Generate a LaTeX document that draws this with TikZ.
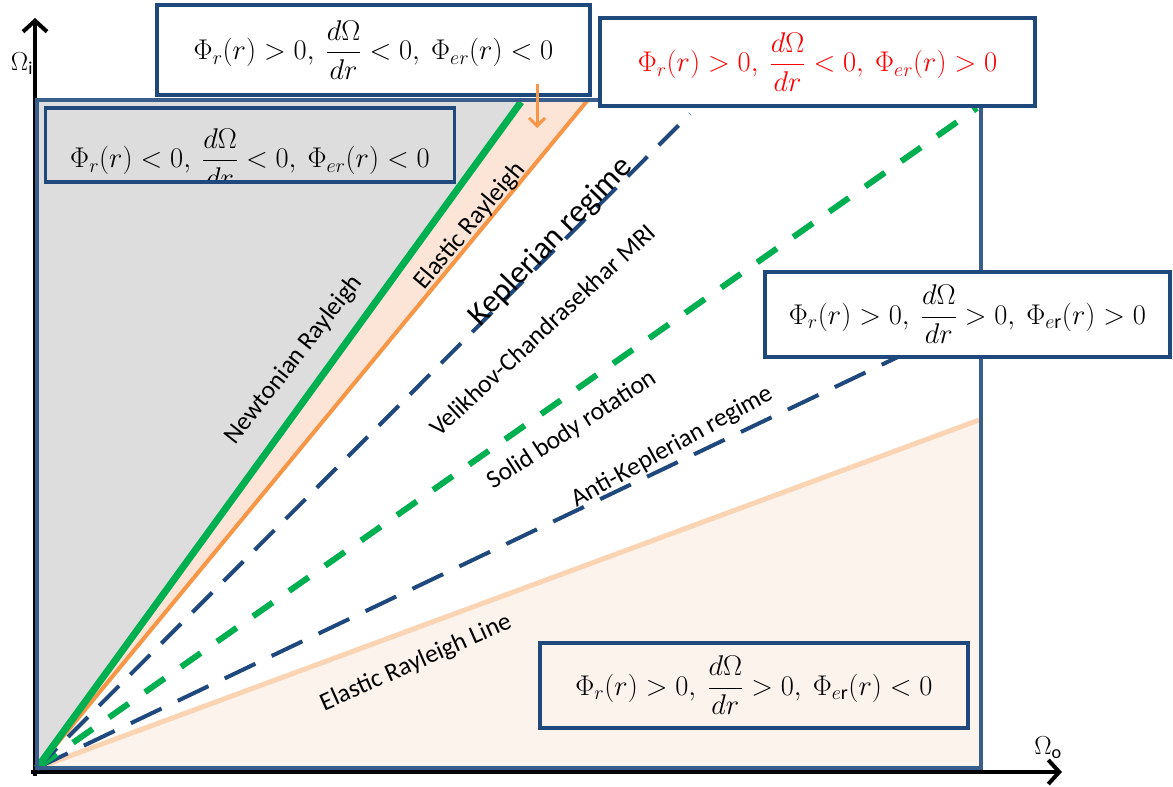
\documentclass[tikz,border=0pt]{standalone}
\usepackage{fix-cm}
\usepackage{amsmath}
\usepackage{fontspec}
\setmainfont{Carlito}
\usetikzlibrary{arrows.meta}
\definecolor{boxblue}{RGB}{31,73,125}
\definecolor{frameblue}{RGB}{58,94,140}
\definecolor{greyfill}{RGB}{221,221,221}
\definecolor{peach}{RGB}{252,228,214}
\definecolor{lightpeach}{RGB}{253,243,237}
\definecolor{lgreen}{RGB}{0,176,80}
\definecolor{lorange}{RGB}{247,150,70}
\definecolor{paleorange}{RGB}{251,212,180}
\definecolor{dblue}{RGB}{31,73,125}
\tikzset{
  eqbox/.style={draw=boxblue, line width=3.5pt, fill=white, outer sep=0pt, inner sep=0pt, font=\fontsize{28.5}{33}\selectfont},
  eqfont/.style={font=\fontsize{28.5}{33}\selectfont},
  lbl/.style={font=\fontsize{25.5}{30}\selectfont, inner sep=0pt},
  axis/.style={line width=4pt, black, -{Straight Barb[length=11pt,width=24pt]}},
  bluedash/.style={dblue, line width=4pt, dash pattern=on 28pt off 16pt},
  greendash/.style={lgreen, line width=6pt, dash pattern=on 24pt off 20pt}
}
\begin{document}
\begin{tikzpicture}[x=1pt,y=-1pt]
\useasboundingbox (0,0) rectangle (1173,787);
% key coordinates
\coordinate (O) at (37,768);
\coordinate (TL) at (37,100);
\coordinate (BR) at (981,768);
\coordinate (gEnd) at (521,102);
\coordinate (oEnd) at (587,101);
\coordinate (kEnd) at (690,114);
\coordinate (sEnd) at (977,108);
\coordinate (aEnd) at (900,356);
\coordinate (eEnd) at (979,420);
\coordinate (gTop) at (524,100);
\coordinate (oTop) at (590,100);
\coordinate (eRight) at (981,420);
% regions
\fill[greyfill] (O) -- (TL) -- (gTop) -- cycle;
\fill[peach] (O) -- (gTop) -- (oTop) -- cycle;
\fill[lightpeach] (O) -- (eRight) -- (BR) -- cycle;
% axes
\coordinate (yb) at (35,776);
\coordinate (yt) at (35,18);
\coordinate (xl) at (31,772);
\coordinate (xr) at (1062,772);
\draw[axis] (yb) -- (yt);
\draw[axis] (xl) -- (xr);
% lines
\draw[paleorange, line width=5pt] (O) -- (eEnd);
\draw[bluedash, dash pattern=on 34pt off 18pt] (O) -- (aEnd);
\draw[greendash] (O) -- (sEnd);
\draw[bluedash] (O) -- (kEnd);
\draw[lorange, line width=4pt] (O) -- (oEnd);
\draw[lgreen, line width=7pt] (O) -- (gEnd);
% frame
\draw[frameblue, line width=4pt] (TL) rectangle (BR);
% boxes
\node[eqbox, minimum width=433pt, minimum height=90pt] (b1) at (373.5,50) {$\Phi_r(r) > 0,\ \dfrac{d\Omega}{dr} < 0,\ \Phi_{er}(r) < 0$};
\node[eqbox, minimum width=435pt, minimum height=88pt, text=red] (b2) at (817.5,62) {$\Phi_r(r) > 0,\ \dfrac{d\Omega}{dr} < 0,\ \Phi_{er}(r) > 0$};
\node[eqbox, minimum width=405pt, minimum height=85pt] (b4) at (967.5,314.5) {$\Phi_r(r) > 0,\ \dfrac{d\Omega}{dr} > 0,\ \Phi_{e\mathrm{r}}(r) > 0$};
\node[eqbox, fill=lightpeach, minimum width=428pt, minimum height=85pt] (b5) at (754,685.5) {$\Phi_r(r) > 0,\ \dfrac{d\Omega}{dr} > 0,\ \Phi_{e\mathrm{r}}(r) < 0$};
\node[eqbox, fill=greyfill, minimum width=409pt, minimum height=74pt] (b3) at (250,145) {};
\begin{scope}
\clip (b3.south west) rectangle (b3.north east);
\node[eqfont] at (250,158) {$\Phi_r(r) < 0,\ \dfrac{d\Omega}{dr} < 0,\ \Phi_{er}(r) < 0$};
\end{scope}
\draw[boxblue, line width=3.5pt] (b3.south west) rectangle (b3.north east);
% orange arrow
\coordinate (oa1) at (537,84);
\coordinate (oa2) at (537,128);
\draw[lorange, line width=3pt, -{Straight Barb[length=8pt,width=16pt]}] (oa1) -- (oa2);
% axis labels
\node[font=\fontsize{26}{30}\selectfont, inner sep=0pt] (li) at (22,64) {$\Omega_{\mathrm{i}}$};
\node[font=\fontsize{26}{30}\selectfont, inner sep=0pt] (lo) at (1048,748) {$\Omega_{\mathrm{o}}$};
% labels
\node[lbl, rotate=52] (nr) at (294,360) {Newtonian Rayleigh};
\node[lbl, rotate=50] (er) at (470,226) {Elastic Rayleigh};
\node[lbl, rotate=46, font=\fontsize{32}{38}\selectfont] (kr) at (551,242) {Keplerian regime};
\node[lbl, rotate=43] (vc) at (542,330) {Velikhov-Chandrasekhar MRI};
\node[lbl, rotate=33] (sb) at (572,430) {Solid body rotation};
\node[lbl, rotate=29] (ak) at (672,447) {Anti-Keplerian regime};
\node[lbl, rotate=24] (el) at (416,663) {Elastic Rayleigh Line};
\end{tikzpicture}
\end{document}
